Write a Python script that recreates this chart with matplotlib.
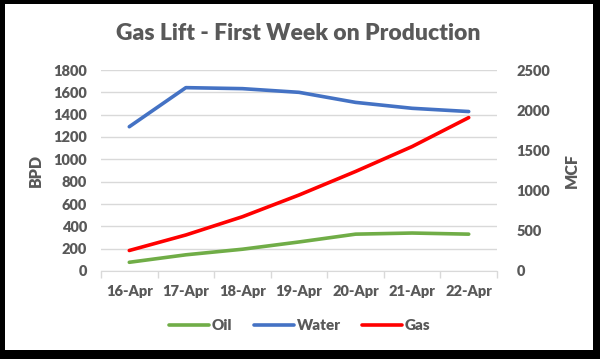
import matplotlib
matplotlib.use("Agg")
import matplotlib.pyplot as plt
from matplotlib.patches import Rectangle

# data
dates = ["16-Apr", "17-Apr", "18-Apr", "19-Apr", "20-Apr", "21-Apr", "22-Apr"]
oil = [78, 145, 195, 260, 330, 340, 330]        # BPD
water = [1292, 1642, 1633, 1600, 1510, 1457, 1428]  # BPD
gas = [255, 448, 675, 945, 1238, 1548, 1908]    # MCF

gray = "#595959"
grid_gray = "#d9d9d9"
plt.rcParams["font.family"] = ["Lato", "DejaVu Sans"]
plt.rcParams["font.weight"] = "heavy"

fig = plt.figure(figsize=(6, 3.59), dpi=100, facecolor="black")
# white card inside the black frame
fig.patches.append(
    Rectangle((5 / 600, 9 / 359), 588 / 600, 346 / 359,
              transform=fig.transFigure, facecolor="white", edgecolor="none", zorder=-10)
)

ax = fig.add_axes([101 / 600, 88 / 359, 396 / 600, 201 / 359])
ax2 = ax.twinx()
ax.set_facecolor("none")
ax2.set_facecolor("none")

x = range(len(dates))
l_oil, = ax.plot(x, oil, color="#70ad47", lw=2.6, solid_capstyle="round", label="Oil")
l_water, = ax.plot(x, water, color="#4472c4", lw=2.6, solid_capstyle="round", label="Water")
l_gas, = ax2.plot(x, gas, color="#ff0000", lw=2.6, solid_capstyle="round", label="Gas")

ax.set_xlim(-0.5, len(dates) - 0.5)
ax.set_ylim(0, 1800)
ax.set_yticks(range(0, 1801, 200))
ax2.set_ylim(0, 2500)
ax2.set_yticks(range(0, 2501, 500))

ax.set_xticks(list(x))
ax.set_xticklabels(dates)
ax.set_xticks([i - 0.5 for i in range(len(dates) + 1)], minor=True)
ax.tick_params(axis="x", which="major", length=0, pad=10, labelsize=10.5, labelcolor=gray)
ax.tick_params(axis="x", which="minor", length=5, color=grid_gray, width=1)
ax.tick_params(axis="y", length=0, pad=10, labelsize=10.5, labelcolor=gray)
ax2.tick_params(axis="y", length=0, pad=14, labelsize=10.5, labelcolor=gray)

ax.grid(axis="y", color=grid_gray, lw=1)
ax.set_axisbelow(True)
for a in (ax, ax2):
    for s in a.spines.values():
        s.set_visible(False)
ax.spines["bottom"].set_visible(True)
ax.spines["bottom"].set_color(grid_gray)

ax.set_ylabel("BPD", fontsize=11.5, color=gray, fontweight="heavy", labelpad=7)
ax2.set_ylabel("MCF", fontsize=11.5, color=gray, fontweight="heavy", labelpad=10)

fig.text(0.497, 1 - 33 / 359, "Gas Lift - First Week on Production",
         ha="center", va="center", fontsize=16.5, color=gray, fontweight="heavy")

fig.legend([l_oil, l_water, l_gas], ["Oil", "Water", "Gas"],
           loc="center", bbox_to_anchor=(0.5, 1 - 326 / 359), ncol=3,
           frameon=False, fontsize=11, labelcolor=gray, handlelength=2.6,
           handletextpad=0.2, columnspacing=1.4)

fig.savefig("out.png", dpi=100, facecolor=fig.get_facecolor())
